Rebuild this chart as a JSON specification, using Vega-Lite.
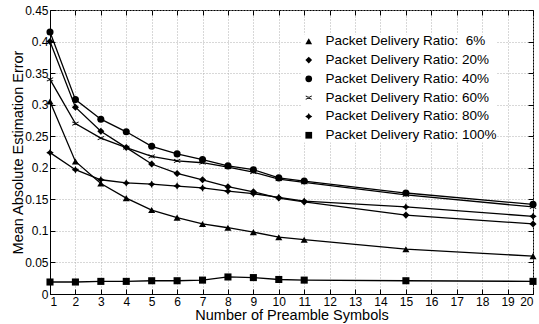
{
  "$schema": "https://vega.github.io/schema/vega-lite/v6.json",
  "width": 483,
  "height": 284,
  "autosize": {"type": "none"},
  "padding": {"left": 50, "top": 10, "right": 6, "bottom": 30},
  "config": {
    "font": "Liberation Sans",
    "view": {"stroke": "black", "strokeWidth": 1},
    "axis": {
      "labelFont": "Liberation Sans",
      "titleFont": "Liberation Sans",
      "labelColor": "black",
      "titleColor": "black",
      "domainColor": "black",
      "tickColor": "black",
      "labelFontSize": 12,
      "titleFontSize": 14.5,
      "titleFontWeight": "normal",
      "gridColor": "#b0b0b0",
      "gridDash": [1, 2],
      "gridWidth": 1,
      "tickSize": -5,
      "labelPadding": 9
    },
    "legend": {
      "labelFont": "Liberation Sans",
      "labelFontSize": 13.5,
      "labelColor": "black"
    }
  },
  "data": {
    "values": [
      {"x": 1, "v": 0.305, "s": "6%"},
      {"x": 2, "v": 0.21, "s": "6%"},
      {"x": 3, "v": 0.175, "s": "6%"},
      {"x": 4, "v": 0.152, "s": "6%"},
      {"x": 5, "v": 0.133, "s": "6%"},
      {"x": 6, "v": 0.121, "s": "6%"},
      {"x": 7, "v": 0.111, "s": "6%"},
      {"x": 8, "v": 0.105, "s": "6%"},
      {"x": 9, "v": 0.098, "s": "6%"},
      {"x": 10, "v": 0.09, "s": "6%"},
      {"x": 11, "v": 0.086, "s": "6%"},
      {"x": 15, "v": 0.071, "s": "6%"},
      {"x": 20, "v": 0.06, "s": "6%"},
      {"x": 1, "v": 0.40, "s": "20%"},
      {"x": 2, "v": 0.296, "s": "20%"},
      {"x": 3, "v": 0.258, "s": "20%"},
      {"x": 4, "v": 0.232, "s": "20%"},
      {"x": 5, "v": 0.206, "s": "20%"},
      {"x": 6, "v": 0.191, "s": "20%"},
      {"x": 7, "v": 0.181, "s": "20%"},
      {"x": 8, "v": 0.170, "s": "20%"},
      {"x": 9, "v": 0.162, "s": "20%"},
      {"x": 10, "v": 0.152, "s": "20%"},
      {"x": 11, "v": 0.146, "s": "20%"},
      {"x": 15, "v": 0.125, "s": "20%"},
      {"x": 20, "v": 0.111, "s": "20%"},
      {"x": 1, "v": 0.415, "s": "40%"},
      {"x": 2, "v": 0.308, "s": "40%"},
      {"x": 3, "v": 0.277, "s": "40%"},
      {"x": 4, "v": 0.257, "s": "40%"},
      {"x": 5, "v": 0.234, "s": "40%"},
      {"x": 6, "v": 0.222, "s": "40%"},
      {"x": 7, "v": 0.213, "s": "40%"},
      {"x": 8, "v": 0.203, "s": "40%"},
      {"x": 9, "v": 0.197, "s": "40%"},
      {"x": 10, "v": 0.184, "s": "40%"},
      {"x": 11, "v": 0.179, "s": "40%"},
      {"x": 15, "v": 0.160, "s": "40%"},
      {"x": 20, "v": 0.142, "s": "40%"},
      {"x": 1, "v": 0.34, "s": "60%"},
      {"x": 2, "v": 0.27, "s": "60%"},
      {"x": 3, "v": 0.247, "s": "60%"},
      {"x": 4, "v": 0.232, "s": "60%"},
      {"x": 5, "v": 0.218, "s": "60%"},
      {"x": 6, "v": 0.211, "s": "60%"},
      {"x": 7, "v": 0.208, "s": "60%"},
      {"x": 8, "v": 0.201, "s": "60%"},
      {"x": 9, "v": 0.193, "s": "60%"},
      {"x": 10, "v": 0.182, "s": "60%"},
      {"x": 11, "v": 0.177, "s": "60%"},
      {"x": 15, "v": 0.157, "s": "60%"},
      {"x": 20, "v": 0.138, "s": "60%"},
      {"x": 1, "v": 0.224, "s": "80%"},
      {"x": 2, "v": 0.197, "s": "80%"},
      {"x": 3, "v": 0.181, "s": "80%"},
      {"x": 4, "v": 0.176, "s": "80%"},
      {"x": 5, "v": 0.174, "s": "80%"},
      {"x": 6, "v": 0.171, "s": "80%"},
      {"x": 7, "v": 0.168, "s": "80%"},
      {"x": 8, "v": 0.163, "s": "80%"},
      {"x": 9, "v": 0.159, "s": "80%"},
      {"x": 10, "v": 0.153, "s": "80%"},
      {"x": 11, "v": 0.147, "s": "80%"},
      {"x": 15, "v": 0.138, "s": "80%"},
      {"x": 20, "v": 0.123, "s": "80%"},
      {"x": 1, "v": 0.019, "s": "100%"},
      {"x": 2, "v": 0.019, "s": "100%"},
      {"x": 3, "v": 0.020, "s": "100%"},
      {"x": 4, "v": 0.020, "s": "100%"},
      {"x": 5, "v": 0.021, "s": "100%"},
      {"x": 6, "v": 0.021, "s": "100%"},
      {"x": 7, "v": 0.022, "s": "100%"},
      {"x": 8, "v": 0.027, "s": "100%"},
      {"x": 9, "v": 0.026, "s": "100%"},
      {"x": 10, "v": 0.023, "s": "100%"},
      {"x": 11, "v": 0.022, "s": "100%"},
      {"x": 15, "v": 0.021, "s": "100%"},
      {"x": 20, "v": 0.020, "s": "100%"}
    ]
  },
  "layer": [
    {
      "mark": {"type": "line", "color": "black", "strokeWidth": 1.3},
      "encoding": {
        "x": {
          "field": "x", "type": "quantitative",
          "scale": {"domain": [1, 20], "nice": false},
          "axis": {"values": [1,2,3,4,5,6,7,8,9,10,11,12,13,14,15,16,17,18,19,20], "title": "Number of Preamble Symbols", "titleBaseline": "alphabetic", "titleY": 25.5, "labelPadding": 7}
        },
        "y": {
          "field": "v", "type": "quantitative",
          "scale": {"domain": [0, 0.45], "nice": false},
          "axis": {"values": [0,0.05,0.1,0.15,0.2,0.25,0.3,0.35,0.4,0.45], "format": "~g", "title": "Mean Absolute Estimation Error", "titleBaseline": "alphabetic", "titleX": -28, "labelPadding": 7}
        },
        "detail": {"field": "s"}
      }
    },
    {
      "mark": {"type": "point", "filled": true, "color": "black", "size": 50, "opacity": 1},
      "encoding": {
        "x": {
          "field": "x", "type": "quantitative",
          "axis": {"orient": "top", "values": [1,2,3,4,5,6,7,8,9,10,11,12,13,14,15,16,17,18,19,20], "labels": false, "grid": false, "title": null, "domain": false}
        },
        "y": {
          "field": "v", "type": "quantitative",
          "axis": {"orient": "right", "values": [0,0.05,0.1,0.15,0.2,0.25,0.3,0.35,0.4,0.45], "labels": false, "grid": false, "title": null, "domain": false}
        },
        "shape": {
          "field": "s", "type": "nominal",
          "scale": {
            "domain": ["6%", "20%", "40%", "60%", "80%", "100%"],
            "range": [
              "triangle-up",
              "diamond",
              "circle",
              "M-0.958,-0.395L0.842,0.605L0.958,0.395L-0.842,-0.605ZM-0.842,0.605L0.958,-0.395L0.842,-0.605L-0.958,0.395ZM-0.09,-0.35L0.09,-0.35L0.09,0.35L-0.09,0.35Z",
              "M0,-1.05L0.3,-0.5L1.05,0L0.3,0.5L0,1.05L-0.3,0.5L-1.05,0L-0.3,-0.5Z",
              "square"
            ]
          },
          "legend": {
            "orient": "none",
            "legendX": 252,
            "legendY": 24.5,
            "title": null,
            "labelLimit": 0,
            "labelExpr": "datum.value == '6%' ? 'Packet Delivery Ratio: \u00a06%' : 'Packet Delivery Ratio: ' + datum.value",
            "symbolFillColor": "black",
            "symbolStrokeColor": "black",
            "symbolStrokeWidth": 0,
            "symbolSize": 45,
            "labelOffset": 10,
            "rowPadding": 3.8,
            "fillColor": "white"
          }
        }
      }
    }
  ],
  "resolve": {"axis": {"x": "independent", "y": "independent"}}
}
